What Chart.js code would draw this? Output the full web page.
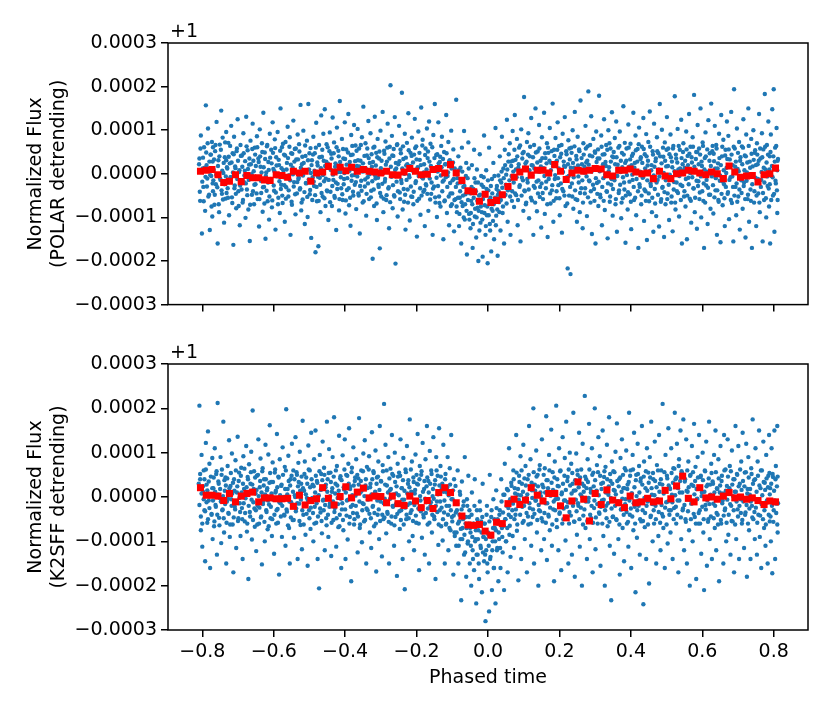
<!DOCTYPE html>
<html>
<head>
<meta charset="utf-8">
<script src="https://cdn.jsdelivr.net/npm/chart.js@4.4.0/dist/chart.umd.min.js"></script>
<style>
  html, body { margin: 0; padding: 0; background: #fff; }
  #wrap { position: relative; width: 830px; height: 712px; }
  canvas { position: absolute; left: 0; }
  #top { top: 0; }
  #bottom { top: 320px; }
</style>
</head>
<body>
<div id="wrap">
  <canvas id="top" width="830" height="320"></canvas>
  <canvas id="bottom" width="830" height="392"></canvas>
</div>
<script>
// x in units of 0.001 phase, flux in units of 1e-6 (relative to the +1 offset)
const xTickVals = [-800, -600, -400, -200, 0, 200, 400, 600, 800];
const xTickLabels = ["\u22120.8", "\u22120.6", "\u22120.4", "\u22120.2", "0.0", "0.2", "0.4", "0.6", "0.8"];
const yTickVals = [-300, -200, -100, 0, 100, 200, 300];
const yTickLabels = ["\u22120.0003", "\u22120.0002", "\u22120.0001", "0.0000", "0.0001", "0.0002", "0.0003"];
const offsetText = "+1";

// binned points (red squares), same bin centres in both panels
const binX = [-805,-789,-773,-756,-740,-724,-707,-691,-675,-659,-642,-626,-610,-593,-577,-561,-545,-528,-512,-496,
  -480,-463,-447,-431,-414,-398,-382,-366,-349,-333,-317,-300,-284,-268,-252,-235,-219,-203,-187,-170,
  -154,-138,-121,-105,-89,-73,-56,-40,-24,-8,8,24,40,56,73,89,105,121,138,154,
  170,187,203,219,235,252,268,284,300,317,333,349,366,382,398,414,431,447,463,480,
  496,512,528,545,561,577,593,610,626,642,659,675,691,707,724,740,756,773,789,805];

const polarBin = [6,8,10,-2,-20,-17,-2,-18,-4,-9,-9,-14,-15,-2,-4,-8,6,2,6,-17,
  2,4,17,4,15,7,15,6,10,6,4,2,6,-2,-3,4,12,6,-2,-1,
  10,12,2,21,2,-15,-39,-41,-63,-47,-66,-61,-48,-29,-8,4,11,-3,8,8,
  2,21,6,-13,2,8,6,8,12,11,-2,-5,8,8,11,4,0,2,-11,6,
  -5,-11,0,2,8,6,2,-2,4,0,-11,18,4,-8,-5,-4,-19,-2,0,13];

const k2sffBin = [21,4,4,2,-8,8,-11,2,8,11,-11,-2,-2,-4,-4,-3,-21,4,-18,-8,
  -4,21,-3,-18,1,23,-2,11,20,-2,2,1,-13,2,-15,-19,2,-9,-24,-8,
  -26,10,21,10,-13,-43,-63,-64,-62,-77,-86,-57,-60,-15,-5,-17,-7,21,4,-9,
  8,8,-20,-47,-9,34,-5,-54,8,-17,16,-7,-13,-24,2,-13,-11,-3,-11,-9,
  15,-4,25,47,-3,-11,21,-2,0,-5,2,10,-2,0,-5,-2,-8,-17,-9,-11];

// unbinned points, flat lists of x,y pairs: the wide scatter and the dense core
const polarPts = [
  -808,35,-806,-62,-804,88,-801,-137,-799,12,-797,-30,-795,61,-792,-85,-790,157,-788,20,-786,-11,-784,104,-781,-48,-779,-129,-777,44,-775,-5,-773,73,-772,-98,-771,28,-770,-40,
  -768,9,-766,-71,-764,52,-762,-24,-760,119,-757,-160,-755,31,-753,-88,-751,67,-749,-14,-747,145,-745,-46,-743,83,-741,2,-739,-112,-737,38,-735,-57,-733,96,-732,-20,-731,15,
  -729,-33,-727,71,-725,-95,-723,24,-721,-8,-719,110,-717,-54,-715,47,-713,-163,-711,85,-709,-27,-707,13,-705,-79,-703,58,-701,125,-699,-40,-697,4,-695,-118,-693,66,-691,-15,
  -689,42,-687,-66,-685,93,-683,-19,-681,7,-679,-101,-677,131,-675,-36,-673,54,-671,-82,-669,21,-667,-154,-665,76,-663,-5,-661,-48,-659,115,-657,30,-655,-70,-653,60,-651,-24,
  -649,-9,-647,86,-645,-58,-643,35,-641,-121,-639,102,-637,16,-635,-44,-633,70,-631,-87,-629,140,-627,-30,-625,49,-623,-149,-621,3,-619,63,-617,-63,-615,27,-613,-105,-611,92,
  -609,-17,-607,55,-605,-77,-603,118,-601,11,-599,-39,-597,79,-595,-128,-593,38,-591,-6,-589,96,-587,-55,-585,20,-583,-90,-581,150,-579,-25,-577,61,-575,-67,-573,8,-571,44,
  -569,-110,-567,73,-565,-31,-563,25,-561,108,-559,-52,-557,-3,-555,84,-553,-140,-551,47,-549,-71,-547,14,-545,122,-543,-19,-541,57,-539,-93,-537,33,-535,-45,-533,90,-531,-12,
  -529,68,-527,-36,-525,158,-523,-84,-521,22,-519,-59,-517,99,-515,5,-513,-115,-511,41,-509,-22,-507,76,-505,-99,-503,160,-501,10,-499,-47,-497,59,-495,-147,-493,31,-491,-8,
  -489,85,-487,-28,-485,47,-483,-180,-481,117,-479,-63,-477,19,-475,-166,-473,66,-471,-9,-469,-88,-467,134,-465,39,-463,-52,-461,92,-459,-17,-457,148,-455,-74,-453,28,-451,-38,
  -449,61,-447,-106,-445,13,-443,95,-441,-41,-439,46,-437,-74,-435,129,-433,-14,-431,72,-429,-55,-427,24,-425,-129,-423,106,-421,-23,-419,53,-417,-84,-415,167,-413,4,-411,-33,
  -409,80,-407,-60,-405,35,-403,-12,-401,118,-399,-91,-397,56,-395,-37,-393,9,-391,137,-389,-72,-387,27,-385,-119,-383,89,-381,-4,-379,44,-377,-50,-375,112,-373,-25,-371,65,
  -369,-81,-367,18,-365,103,-363,-45,-361,58,-359,-137,-357,30,-355,-16,-353,84,-351,-66,-349,154,-347,6,-345,-29,-343,70,-341,-96,-339,42,-337,-8,-335,121,-333,-58,-331,25,
  -329,93,-327,-39,-325,16,-323,-195,-321,60,-319,-74,-317,131,-315,-11,-313,48,-311,-106,-309,80,-307,-25,-305,35,-303,-171,-301,99,-299,-52,-297,3,-295,142,-293,-88,-291,53,
  -289,-18,-287,74,-285,-60,-283,28,-281,115,-279,-34,-277,-125,-275,62,-273,203,-271,-5,-269,87,-267,-79,-265,41,-263,-49,-261,130,-259,-206,-257,12,-255,66,-253,-98,-251,22,
  -249,110,-247,-43,-245,56,-243,-14,-241,186,-239,-82,-237,34,-235,-64,-233,92,-231,-128,-229,19,-227,71,-225,-36,-223,139,-221,-3,-219,-107,-217,48,-215,-52,-213,83,-211,7,
  -209,-70,-207,44,-205,126,-203,-21,-201,63,-199,-144,-197,15,-195,97,-193,-57,-191,32,-189,-94,-187,152,-185,-8,-183,78,-181,-41,-179,22,-177,-120,-175,58,-173,-27,-171,104,
  -169,36,-167,-85,-165,120,-163,-11,-161,69,-159,-46,-157,10,-155,-140,-153,89,-151,-29,-149,160,-147,-66,-145,43,-143,-99,-141,5,-139,118,-137,-52,-135,27,-133,-75,-131,64,
  -129,85,-127,-18,-125,-150,-123,50,-121,-61,-119,22,-117,135,-115,-90,-113,-5,-111,73,-109,-118,-107,31,-105,-45,-103,99,-101,-70,-99,-15,-97,56,-95,-132,-93,12,-91,-58,
  -89,170,-87,-88,-85,-22,-83,40,-81,-120,-79,-55,-77,14,-75,-160,-73,60,-71,-74,-69,-30,-67,98,-65,-105,-63,-47,-61,25,-59,-185,-57,-10,-55,72,-53,-92,-51,-40,
  -49,-125,-47,-62,-45,20,-43,-170,-41,-35,-39,55,-37,-98,-35,-20,-33,-146,-31,10,-29,-78,-27,-200,-25,-50,-23,45,-21,-112,-19,-5,-17,-88,-15,-190,-13,-30,-11,88,
  -9,-72,-7,-140,-5,8,-3,-95,-1,-205,1,-38,3,60,5,-115,7,-55,9,-178,11,-12,13,-85,15,25,17,-150,19,-64,21,105,23,-96,25,-28,27,-188,29,-4,
  31,-65,33,40,35,-130,37,-20,39,85,41,-90,43,12,45,-160,47,55,49,-48,51,-2,53,124,55,-110,57,28,59,-35,61,70,63,-140,65,18,67,-62,69,98,
  71,5,73,-76,75,135,77,32,79,-49,81,80,83,-118,85,14,87,60,89,-26,91,-155,93,102,95,-9,97,47,99,-85,101,176,103,-40,105,24,107,-66,109,73,
  111,-20,113,93,115,-102,117,40,119,-4,121,128,123,-61,125,19,127,-140,129,66,131,-32,133,150,135,7,137,-86,139,51,141,-15,143,112,145,-53,147,30,149,-123,
  151,84,153,-44,155,10,157,140,159,-92,161,36,163,-18,165,70,167,-145,169,48,171,-2,173,105,175,-68,177,25,179,-38,181,161,183,-110,185,55,187,-12,189,82,
  191,-56,193,30,195,118,197,-26,199,64,201,-95,203,9,205,46,207,-135,209,92,211,-40,213,18,215,130,217,-74,219,52,221,-8,223,-217,225,77,227,-50,229,33,
  231,-230,233,60,235,-22,237,100,239,-80,241,14,243,142,245,-58,247,41,249,-110,251,85,253,-6,255,56,257,-88,259,168,261,-33,263,22,265,-125,267,70,269,3,
  271,-45,273,110,275,26,277,-97,279,63,281,189,283,-15,285,42,287,-66,289,132,291,-138,293,11,295,80,297,-35,299,51,301,-160,303,97,305,-21,307,35,309,-74,
  311,179,313,6,315,-54,317,88,319,-118,321,44,323,-10,325,125,327,-83,329,27,331,66,333,-41,335,-148,337,100,339,15,341,-64,343,58,345,-25,347,141,349,-96,
  351,38,353,-12,355,82,357,-70,359,120,361,-133,363,21,365,60,367,-38,369,97,371,4,373,-102,375,48,377,-56,379,155,381,-20,383,71,385,-158,387,30,389,-3,
  391,-82,393,113,395,16,397,-47,399,69,401,-127,403,41,405,-14,407,140,409,-60,411,25,413,88,415,-95,417,2,419,57,421,-170,423,106,425,-30,427,34,429,-70,
  431,62,433,-9,435,128,437,-108,439,45,441,-40,443,91,445,-152,447,19,449,73,451,-63,453,143,455,-22,457,8,459,-88,461,52,463,-133,465,115,467,-35,469,29,
  471,-97,473,84,475,-14,477,47,479,-121,481,160,483,6,485,-58,487,101,489,-30,491,39,493,-145,495,72,497,-70,499,17,501,130,503,-45,505,58,507,-106,509,-2,
  511,90,513,-66,515,28,517,-132,519,64,521,-19,523,178,525,-82,527,35,529,-40,531,103,533,10,535,-98,537,55,539,-25,541,124,543,-160,545,22,547,70,549,-52,
  551,14,553,-75,555,97,557,-150,559,41,561,-9,563,137,565,-57,567,62,569,-112,571,26,573,84,575,-33,577,181,579,-88,581,8,583,50,585,-126,587,112,589,-17,
  591,58,593,-43,595,150,597,-100,599,18,601,72,603,-62,605,-170,607,36,609,95,611,-27,613,5,615,-115,617,123,619,-48,621,47,623,-80,625,161,627,-6,629,64,
  631,-91,633,29,635,110,637,-38,639,66,641,-140,643,12,645,-60,647,92,649,-16,651,-157,653,135,655,40,657,-72,659,78,661,-24,663,-120,665,55,667,2,669,120,
  671,-46,673,87,675,-104,677,33,679,-8,681,142,683,-67,685,20,687,-155,689,194,691,58,693,-30,695,-95,697,104,699,11,701,-52,703,73,705,-128,707,38,709,-15,
  711,63,713,-80,715,125,717,-20,719,42,721,-146,723,90,725,3,727,-58,729,150,731,-110,733,28,735,-36,737,80,739,-170,741,17,743,100,745,-66,747,48,749,-9,
  751,-120,753,70,755,22,757,-45,759,137,761,-88,763,35,765,-14,767,93,769,-155,771,56,773,-60,775,183,777,10,779,-100,781,66,783,-28,785,120,787,-75,789,40,
  790,-160,792,90,794,-5,796,148,798,-50,800,194,802,-133,804,60,806,-22,808,105,810,-90,811,30
];

const polarCore = [
  -809,22,-807,-41,-805,58,-803,5,-800,-18,-798,37,-796,-63,-793,14,-791,-7,-789,49,-787,-29,-785,70,-783,-52,-780,28,-778,-3,-776,44,-774,-75,-773,9,-771,-22,-770,61,
  -769,-15,-767,33,-765,-48,-763,66,-761,-2,-758,-31,-756,18,-754,-70,-752,40,-750,-11,-748,55,-746,-38,-744,7,-742,-59,-740,25,-738,-24,-736,72,-734,-6,-733,31,-732,-44,
  -730,12,-728,-55,-726,39,-724,-19,-722,64,-720,-8,-718,26,-716,-67,-714,3,-712,45,-710,-33,-708,17,-706,-46,-704,52,-702,-12,-700,30,-698,-74,-696,8,-694,-27,-692,41,
  -690,-36,-688,16,-686,-60,-684,47,-682,-4,-680,29,-678,-22,-676,63,-674,-49,-672,11,-670,-14,-668,35,-666,-71,-664,22,-662,-1,-660,57,-658,-40,-656,6,-654,-25,-652,44,
  -650,18,-648,-45,-646,61,-644,-9,-642,27,-640,-58,-638,40,-636,-16,-634,3,-632,50,-630,-31,-628,15,-626,-68,-624,34,-622,-5,-620,-39,-618,66,-616,-20,-614,9,-612,-52,
  -610,37,-608,-12,-606,24,-604,-61,-602,48,-600,-27,-598,6,-596,59,-594,-43,-592,19,-590,-2,-588,-70,-586,32,-584,-17,-582,53,-580,-35,-578,13,-576,-50,-574,69,-572,-8,
  -570,-26,-568,42,-566,-57,-564,10,-562,-6,-560,36,-558,-38,-556,62,-554,-15,-552,21,-550,-64,-548,46,-546,-1,-544,-29,-542,28,-540,-47,-538,58,-536,4,-534,-19,-532,33,
  -530,-9,-528,51,-526,-33,-524,14,-522,-66,-520,39,-518,-4,-516,25,-514,-42,-512,65,-510,-21,-508,8,-506,-53,-504,31,-502,-13,-500,47,-498,-37,-496,2,-494,20,-492,-60,
  -490,44,-488,-18,-486,7,-484,-49,-482,60,-480,-30,-478,26,-476,-7,-474,-62,-472,38,-470,-25,-468,13,-466,-44,-464,55,-462,-3,-460,30,-458,-56,-456,18,-454,-11,-452,68,
  -450,-40,-448,23,-446,-14,-444,52,-442,-65,-440,9,-438,35,-436,-28,-434,-2,-432,47,-430,-51,-428,16,-426,-20,-424,61,-422,-35,-420,4,-418,40,-416,-58,-414,27,-412,-8,
  -410,15,-408,-47,-406,57,-404,-24,-402,2,-400,34,-398,-61,-396,21,-394,-10,-392,49,-390,-33,-388,7,-386,-55,-384,43,-382,-16,-380,64,-378,-41,-376,11,-374,-3,-372,29,
  -370,-19,-368,53,-366,-6,-364,31,-362,-50,-360,17,-358,-28,-356,66,-354,-39,-352,5,-350,24,-348,-63,-346,41,-344,-13,-342,12,-340,-46,-338,58,-336,-22,-334,36,-332,-1,
  -330,8,-328,-54,-326,45,-324,-17,-322,27,-320,-36,-318,62,-316,-4,-314,19,-312,-68,-310,38,-308,-9,-306,-30,-304,51,-302,-44,-300,13,-298,30,-296,-23,-294,1,-292,-57,
  -290,46,-288,-12,-286,21,-284,-49,-282,60,-280,4,-278,-31,-276,35,-274,-65,-272,16,-270,-7,-268,42,-266,-26,-264,57,-262,-52,-260,9,-258,25,-256,-18,-254,68,-252,-40,
  -250,-3,-248,29,-246,-58,-244,47,-242,-21,-240,12,-238,63,-236,-35,-234,0,-232,-48,-230,37,-228,-14,-226,22,-224,-66,-222,54,-220,-8,-218,18,-216,-29,-214,41,-212,-53,
  -210,26,-208,-41,-206,6,-204,59,-202,-17,-200,33,-198,-62,-196,14,-194,-5,-192,48,-190,-33,-188,20,-186,-50,-184,65,-182,-11,-180,3,-178,-37,-176,43,-174,-24,-172,10,
  -170,-46,-168,51,-166,-2,-164,28,-162,-59,-160,18,-158,-20,-156,61,-154,-34,-152,7,-150,36,-148,-54,-146,14,-144,-9,-142,45,-140,-28,-138,24,-136,-67,-134,39,-132,-4,
  -130,15,-128,-40,-126,34,-124,-15,-122,-63,-120,22,-118,-8,-116,47,-114,-30,-112,3,-110,-52,-108,30,-106,-21,-104,-74,-102,12,-100,-45,-98,26,-96,-12,-94,-60,-92,5,
  -90,-30,-88,-75,-86,-10,-84,-55,-82,8,-80,-92,-78,-40,-76,-20,-74,-65,-72,5,-70,-50,-68,-100,-66,-28,-64,-70,-62,-5,-60,-85,-58,-38,-56,-60,-54,12,-52,-105,
  -50,-45,-48,-90,-46,-30,-44,-70,-42,-115,-40,-55,-38,-10,-36,-80,-34,-40,-32,-100,-30,-62,-28,-20,-26,-85,-24,-130,-22,-48,-20,-75,-18,-25,-16,-105,-14,-58,-12,-8,
  -10,-90,-8,-50,-6,-120,-4,-35,-2,-75,0,-15,2,-95,4,-60,6,-130,8,-28,10,-80,12,-45,14,-108,16,-70,18,-5,20,-55,22,-118,24,-35,26,-82,28,-48,
  30,-40,32,-88,34,-15,36,-60,38,5,40,-32,42,-75,44,-10,46,-50,48,20,50,-25,52,-68,54,10,56,-38,58,45,60,-15,62,-52,64,28,66,-5,68,-40,
  70,30,72,-20,74,55,76,-45,78,10,80,-8,82,40,84,-60,86,22,88,-30,90,65,92,2,94,-50,96,35,98,-15,100,50,102,-38,104,15,106,-70,108,28,
  110,-12,112,44,114,-36,116,8,118,62,120,-55,122,20,124,-4,126,38,128,-28,130,12,132,-66,134,49,136,-18,138,26,140,-45,142,5,144,58,146,-30,148,17,
  150,-22,152,36,154,-58,156,13,158,-5,160,47,162,-33,164,24,166,-70,168,60,170,-12,172,30,174,-45,176,8,178,52,180,-26,182,18,184,-62,186,41,188,-3,
  190,26,192,-40,194,55,196,-10,198,12,200,-56,202,38,204,-22,206,66,208,-35,210,4,212,28,214,-50,216,16,218,-15,220,45,222,-68,224,22,226,-5,228,58,
  230,-30,232,14,234,48,236,-52,238,25,240,-8,242,63,244,-38,246,7,248,33,250,-60,252,19,254,-20,256,52,258,-44,260,10,262,36,264,-15,266,-66,268,44,
  270,16,272,-33,274,58,276,-6,278,30,280,-54,282,21,284,-17,286,66,288,-40,290,5,292,40,294,-25,296,12,298,-62,300,48,302,-10,304,27,306,-46,308,56,
  310,-18,312,35,314,-48,316,10,318,62,320,-30,322,22,324,-62,326,45,328,-2,330,18,332,-40,334,55,336,-22,338,6,340,70,342,-52,344,28,346,-12,348,40,
  350,-35,352,50,354,-15,356,22,358,-58,360,38,362,-5,364,12,366,-44,368,64,370,-25,372,30,374,-66,376,15,378,-8,380,44,382,-36,384,25,386,-50,388,58,
  390,10,392,-42,394,60,396,-18,398,33,400,-64,402,20,404,-2,406,46,408,-30,410,14,412,-55,414,54,416,-12,418,28,420,-40,422,68,424,-24,426,5,428,38,
  430,-50,432,25,434,-8,436,57,438,-36,440,12,442,-62,444,40,446,-15,448,30,450,-45,452,6,454,62,456,-28,458,20,460,-55,462,44,464,-4,466,16,468,-68,
  470,35,472,-20,474,52,476,-48,478,10,480,-6,482,40,484,-64,486,24,488,-32,490,60,492,2,494,-42,496,30,498,-15,500,55,502,-58,504,18,506,-25,508,45,
  510,-10,512,38,514,-52,516,15,518,58,520,-36,522,6,524,-66,526,44,528,-20,530,26,532,-44,534,64,536,-5,538,12,540,-60,542,36,544,-28,546,50,548,8,
  550,-40,552,30,554,-12,556,56,558,-50,560,20,562,-24,564,46,566,2,568,-62,570,38,572,-8,574,62,576,-34,578,16,580,-55,582,34,584,-16,586,50,588,-28,
  590,22,592,-58,594,44,596,-6,598,28,600,-40,602,64,604,-22,606,10,608,-66,610,40,612,-14,614,56,616,-32,618,4,620,30,622,-48,624,18,626,-2,628,52,
  630,-26,632,46,634,-54,636,12,638,-10,640,58,642,-38,644,24,646,-64,648,36,650,-4,652,20,654,-46,656,62,658,-18,660,8,662,-56,664,42,666,-30,668,14,
  670,34,672,-42,674,56,676,-14,678,20,680,-60,682,44,684,-6,686,-30,688,62,690,-50,692,16,694,28,696,-22,698,-64,700,48,702,6,704,-36,706,30,708,-10,
  710,-44,712,22,714,60,716,-28,718,8,720,-58,722,40,724,-16,726,26,728,-48,730,64,732,-4,734,14,736,-62,738,46,740,-24,742,-2,744,32,746,-40,748,54,
  750,20,752,-50,754,44,756,-12,758,30,760,-66,762,58,764,-30,766,4,768,38,770,-44,772,14,774,-20,776,62,778,-56,780,26,782,-6,784,44,786,-34,788,10,
  789,-24,791,50,793,-60,795,18,797,-8,799,40,801,-46,803,28,805,-16,807,64,809,-38,810,8,811,-60,812,34
];

const k2sffPts = [
  -808,206,-806,40,-804,-75,-802,95,-800,-112,-798,12,-796,60,-794,-30,-792,-145,-790,122,-788,28,-786,-58,-784,148,-782,-8,-780,75,-778,-160,-776,5,-774,-40,-772,88,-771,-95,
  -769,20,-767,-66,-765,110,-763,-18,-761,52,-759,-130,-757,212,-755,35,-753,-47,-751,-2,-749,90,-747,-104,-745,62,-743,-28,-741,170,-739,-80,-737,14,-735,44,-733,-150,-731,-10,
  -729,70,-727,-36,-725,128,-723,-90,-721,25,-719,-5,-717,98,-715,-62,-713,-170,-711,40,-709,-22,-707,83,-705,-115,-703,10,-701,136,-699,-48,-697,55,-695,-14,-693,-88,-691,66,
  -689,-25,-687,-140,-685,92,-683,18,-681,-55,-679,-3,-677,115,-675,-78,-673,45,-671,-185,-669,74,-667,-34,-665,30,-663,102,-661,-96,-659,195,-657,-12,-655,58,-653,-67,-651,8,
  -649,-122,-647,48,-645,-20,-643,130,-641,-60,-639,22,-637,87,-635,-44,-633,-152,-631,65,-629,-9,-627,40,-625,-100,-623,118,-621,-30,-619,15,-617,-73,-615,96,-613,-17,-611,162,
  -609,-48,-607,34,-605,-88,-603,78,-601,-6,-599,-128,-597,55,-595,10,-593,-60,-591,142,-589,-27,-587,46,-585,-175,-583,85,-581,-14,-579,25,-577,-90,-575,112,-573,0,-571,-40,
  -569,68,-567,-110,-565,198,-563,-33,-561,18,-559,93,-557,-70,-555,-150,-553,40,-551,-12,-549,120,-547,-52,-545,60,-543,-92,-541,4,-539,135,-537,-26,-535,50,-533,-140,-531,77,
  -529,-15,-527,102,-525,-63,-523,30,-521,-118,-519,172,-517,-40,-515,14,-513,80,-511,-85,-509,44,-507,-2,-505,-155,-503,116,-501,-30,-499,60,-497,-72,-495,145,-493,-9,-491,28,
  -489,-100,-487,85,-485,-22,-483,150,-481,-58,-479,36,-477,-140,-475,2,-473,-206,-471,95,-469,-35,-467,52,-465,-82,-463,125,-461,-6,-459,66,-457,-120,-455,22,-453,-48,-451,170,
  -449,40,-447,-90,-445,108,-443,-15,-441,55,-439,-133,-437,12,-435,90,-433,-52,-431,180,-429,-25,-427,30,-425,-112,-423,70,-421,-2,-419,-68,-417,138,-415,-40,-413,47,-411,-160,
  -409,-28,-407,94,-405,-75,-403,17,-401,130,-399,-140,-397,50,-395,-8,-393,-96,-391,75,-389,155,-387,-45,-385,24,-383,-190,-381,66,-379,-18,-377,112,-375,-62,-373,36,-371,3,
  -369,85,-367,-37,-365,-125,-363,42,-361,178,-359,-70,-357,10,-355,60,-353,-102,-351,-14,-349,98,-347,-55,-345,128,-343,26,-341,-150,-339,68,-337,-30,-335,-2,-333,92,-331,-80,
  -329,30,-327,-115,-325,146,-323,-22,-321,58,-319,-66,-317,8,-315,105,-313,-168,-311,44,-309,-40,-307,80,-305,-95,-303,160,-301,-10,-299,35,-297,-134,-295,72,-293,-50,-291,210,
  -289,-4,-287,118,-285,-82,-283,26,-281,-38,-279,90,-277,-150,-275,15,-273,64,-271,-60,-269,140,-267,-20,-265,48,-263,-110,-261,100,-259,-45,-257,8,-255,-178,-253,75,-251,-14,
  -249,55,-247,-72,-245,130,-243,-30,-241,20,-239,-140,-237,88,-235,-6,-233,-208,-231,62,-229,-50,-227,115,-225,-18,-223,38,-221,-100,-219,175,-217,-36,-215,12,-213,80,-211,-88,
  -209,44,-207,-120,-205,8,-203,96,-201,-58,-199,30,-197,142,-195,-26,-193,-165,-191,70,-189,-8,-187,50,-185,-92,-183,122,-181,-40,-179,18,-177,-130,-175,85,-173,-12,-171,160,
  -169,-62,-167,36,-165,-150,-163,104,-161,-20,-159,60,-157,-80,-155,2,-153,135,-151,-44,-149,28,-147,-185,-145,90,-143,-10,-141,48,-139,-108,-137,155,-135,-30,-133,70,-131,-66,
  -129,20,-127,-98,-125,118,-123,-35,-121,-150,-119,52,-117,-60,-115,10,-113,90,-111,-120,-109,-20,-107,65,-105,-75,-103,140,-101,-45,-99,-5,-97,-175,-95,40,-93,-88,-91,25,
  -89,-110,-87,-30,-85,60,-83,-150,-81,-55,-79,12,-77,-95,-75,-233,-73,35,-71,-70,-69,-20,-67,-130,-65,90,-63,-60,-61,-180,-59,-5,-57,-105,-55,48,-53,-45,-51,-150,
  -49,-80,-47,-200,-45,10,-43,-120,-41,-60,-39,-165,-37,40,-35,-95,-33,-240,-31,-30,-29,-130,-27,-75,-25,-185,-23,-10,-21,-110,-19,-55,-17,-215,-15,30,-13,-90,-11,-145,
  -9,-60,-7,-280,-5,-120,-3,-20,-1,-170,1,-85,3,-258,5,50,7,-135,9,-45,11,-210,13,-100,15,-5,17,-160,19,-70,21,-240,23,15,25,-120,27,-50,29,-190,
  31,-95,33,-30,35,-160,37,40,39,-70,41,-125,43,5,45,-210,47,75,49,-50,51,-100,53,18,55,-170,57,-25,59,110,61,-65,63,-135,65,32,67,-8,69,-88,
  71,60,73,-115,75,20,77,-40,79,140,81,-76,83,5,85,-188,87,48,89,-12,91,92,93,-140,95,30,97,-58,99,118,101,-20,103,-95,105,70,107,-2,109,-170,
  111,40,113,-62,115,160,117,-25,119,85,121,-110,123,15,125,-45,127,200,129,-150,131,28,133,-8,135,105,137,-80,139,50,141,-200,143,-30,145,72,147,10,149,-120,
  151,130,153,-55,155,22,157,-95,159,65,161,-14,163,182,165,-142,167,38,169,-40,171,95,173,-75,175,3,177,152,179,-110,181,56,183,-28,185,-190,187,80,189,-5,
  191,206,193,-68,195,25,197,-120,199,110,201,-35,203,60,205,-165,207,10,209,135,211,-50,213,-8,215,88,217,-98,219,170,221,-22,223,45,225,-150,227,-60,229,100,
  231,-12,233,75,235,-130,237,30,239,190,241,-55,243,-180,245,15,247,98,249,-85,251,50,253,-20,255,145,257,-112,259,6,261,62,263,-200,265,120,267,-42,269,25,
  271,228,273,-70,275,40,277,-140,279,85,281,-10,283,165,285,-95,287,18,289,-48,291,110,293,-170,295,55,297,-25,299,200,301,-118,303,10,305,72,307,-60,309,135,
  311,-35,313,92,315,-155,317,30,319,-8,321,150,323,-88,325,45,327,-200,329,68,331,-20,333,118,335,-66,337,5,339,180,341,-110,343,36,345,-233,347,80,349,-45,
  351,58,353,-128,355,14,357,102,359,-50,361,166,363,-10,365,-95,367,40,369,-175,371,88,373,-28,375,130,377,-70,379,20,381,-145,383,65,385,-5,387,105,389,-60,
  391,28,393,-112,395,190,397,-40,399,60,401,-160,403,8,405,95,407,-75,409,145,411,-22,413,-215,415,50,417,-92,419,120,421,-8,423,70,425,-130,427,35,429,-55,
  431,160,433,-30,435,-242,437,80,439,-68,441,20,443,-140,445,110,447,-10,449,55,451,-195,453,90,455,-45,457,170,459,5,461,-100,463,40,465,-60,467,125,469,-20,
  471,-150,473,72,475,-5,477,-88,479,140,481,30,483,-120,485,60,487,-38,489,210,491,-70,493,15,495,-160,497,95,499,-12,501,48,503,-105,505,155,507,-30,509,20,
  511,-80,513,110,515,5,517,-140,519,65,521,-25,523,190,525,40,527,-60,529,120,531,-8,533,-170,535,85,537,10,539,150,541,-95,543,55,545,-30,547,175,549,-120,
  551,35,553,-50,555,130,557,-150,559,12,561,80,563,-75,565,-200,567,50,569,-15,571,115,573,-100,575,25,577,165,579,-45,581,68,583,-185,585,-5,587,90,589,-60,
  591,140,593,-30,595,45,597,-128,599,10,601,100,603,-80,605,-210,607,60,609,-18,611,125,613,-155,615,28,617,-50,619,170,621,-95,623,5,625,75,627,-140,629,35,
  631,-15,633,95,635,-70,637,150,639,-120,641,20,643,-40,645,85,647,-190,649,10,651,115,653,-60,655,48,657,-8,659,-150,661,140,663,-30,665,62,667,-100,669,25,
  671,130,673,-85,675,8,677,70,679,-130,681,-20,683,105,685,-55,687,40,689,-170,691,12,693,160,695,-95,697,52,699,-28,701,115,703,-140,705,30,707,-5,709,80,
  711,-60,713,145,715,-10,717,-115,719,55,721,-35,723,120,725,-180,727,18,729,90,731,-75,733,5,735,-140,737,65,739,-20,741,175,743,-50,745,38,747,-95,749,110,
  751,-5,753,-130,755,80,757,-40,759,150,761,-90,763,20,765,-160,767,60,769,-18,771,125,773,-70,775,32,777,-110,779,95,781,-8,783,-150,785,48,787,140,789,-55,
  790,20,792,-100,794,110,796,-172,798,45,800,-30,802,150,804,-140,806,70,808,-15,810,160,811,-80
];

const k2sffCore = [
  -810,30,-808,-18,-806,52,-804,-44,-802,8,-800,-60,-798,24,-796,-5,-794,40,-792,-32,-790,62,-788,-12,-786,15,-784,-50,-782,35,-780,-25,-778,3,-776,46,-774,-38,-772,20,
  -770,-8,-768,44,-766,-55,-764,12,-762,-22,-760,58,-758,-40,-756,6,-754,30,-752,-64,-750,18,-748,-10,-746,50,-744,-30,-742,2,-740,-48,-738,38,-736,-16,-734,26,-732,-58,
  -730,42,-728,-4,-726,-38,-724,20,-722,-62,-720,54,-718,-20,-716,8,-714,32,-712,-46,-710,14,-708,-28,-706,60,-704,-12,-702,24,-700,-54,-698,36,-696,-2,-694,-34,-692,48,
  -690,10,-688,-50,-686,30,-684,-14,-682,64,-680,-36,-678,4,-676,22,-674,-60,-672,40,-670,-20,-668,12,-666,-44,-664,56,-662,-6,-660,28,-658,-52,-656,18,-654,-26,-652,44,
  -650,-30,-648,16,-646,-62,-644,50,-642,2,-640,-24,-638,36,-636,-46,-634,10,-632,58,-630,-16,-628,26,-626,-56,-624,6,-622,40,-620,-34,-618,20,-616,-8,-614,-66,-612,32,
  -610,54,-608,-22,-606,8,-604,-50,-602,34,-600,-2,-598,-40,-596,62,-594,14,-592,-30,-590,22,-588,-58,-586,44,-584,-12,-582,4,-580,-44,-578,28,-576,-20,-574,50,-572,-6,
  -570,-42,-568,18,-566,60,-564,-28,-562,6,-560,-64,-558,36,-556,-10,-554,26,-552,-46,-550,48,-548,-18,-546,12,-544,-52,-542,40,-540,0,-538,-32,-536,56,-534,-14,-532,24,
  -530,34,-528,-54,-526,14,-524,-6,-522,46,-520,-30,-518,20,-516,-62,-514,52,-512,-16,-510,6,-508,-38,-506,30,-504,-8,-502,62,-500,-48,-498,22,-496,-24,-494,40,-492,-2,
  -490,-36,-488,24,-486,-60,-484,10,-482,48,-480,-14,-478,32,-476,-44,-474,4,-472,58,-470,-26,-468,16,-466,-54,-464,38,-462,-8,-460,-30,-458,50,-456,-18,-454,28,-452,-64,
  -450,12,-448,-40,-446,54,-444,-22,-442,2,-440,34,-438,-58,-436,20,-434,-10,-432,46,-430,-34,-428,8,-426,60,-424,-48,-422,26,-420,-16,-418,14,-416,-66,-414,42,-412,-4,
  -410,38,-408,-14,-406,-52,-404,22,-402,62,-400,-28,-398,10,-396,-42,-394,48,-392,-6,-390,30,-388,-60,-386,18,-384,-22,-382,56,-380,4,-378,-36,-376,26,-374,-50,-372,44,
  -370,-20,-368,8,-366,50,-364,-44,-362,28,-360,-10,-358,-62,-356,36,-354,14,-352,-30,-350,58,-348,-16,-346,2,-344,-52,-342,40,-340,-26,-338,20,-336,-6,-334,62,-332,-38,
  -330,22,-328,-48,-326,6,-324,40,-322,-20,-320,54,-318,-36,-316,12,-314,-60,-312,30,-310,-8,-308,46,-306,-28,-304,16,-302,-54,-300,36,-298,-2,-296,-40,-294,58,-292,-14,
  -290,-46,-288,28,-286,-12,-284,60,-282,-34,-280,10,-278,-56,-276,42,-274,-4,-272,18,-270,-44,-268,52,-266,-22,-264,6,-262,-64,-260,34,-258,-16,-256,24,-254,-38,-252,46,
  -250,4,-248,-32,-246,48,-244,-52,-242,20,-240,-6,-238,38,-236,-62,-234,14,-232,-24,-230,56,-228,-40,-226,8,-224,30,-222,-48,-220,22,-218,-14,-216,62,-214,-30,-212,10,
  -210,-54,-208,34,-206,-18,-204,16,-202,-42,-200,50,-198,-8,-196,28,-194,-60,-192,40,-190,2,-188,-32,-186,58,-184,-22,-182,12,-180,-46,-178,36,-176,-4,-174,-36,-172,24,
  -170,44,-168,-26,-166,10,-164,-58,-162,30,-160,-12,-158,52,-156,-40,-154,18,-152,-4,-150,-50,-148,38,-146,-20,-144,60,-142,-34,-140,6,-138,-62,-136,26,-134,-10,-132,46,
  -130,-24,-128,30,-126,-50,-124,12,-122,-8,-120,40,-118,-62,-116,-20,-114,22,-112,-40,-110,4,-108,-70,-106,28,-104,-30,-102,-5,-100,-55,-98,15,-96,-42,-94,-80,-92,-12,
  -90,-35,-88,-80,-86,-15,-84,-60,-82,-110,-80,-40,-78,5,-76,-72,-74,-28,-72,-95,-70,-50,-68,-10,-66,-85,-64,-125,-62,-45,-60,-70,-58,-20,-56,-100,-54,-60,-52,-30,
  -50,-70,-48,-110,-46,-40,-44,-90,-42,-140,-40,-60,-38,-20,-36,-100,-34,-75,-32,-130,-30,-50,-28,-95,-26,-150,-24,-65,-22,-30,-20,-115,-18,-80,-16,-45,-14,-125,-12,-90,
  -10,-60,-8,-130,-6,-95,-4,-40,-2,-150,0,-80,2,-110,4,-55,6,-140,8,-90,10,-30,12,-120,14,-70,16,-160,18,-50,20,-100,22,-75,24,-25,26,-115,28,-60,
  30,-80,32,-40,34,-115,36,-60,38,-10,40,-90,42,-35,44,-65,46,5,48,-50,50,-100,52,-20,54,-70,56,15,58,-40,60,-85,62,-5,64,-45,66,25,68,-30,
  70,-15,72,40,74,-50,76,8,78,-28,80,55,82,-62,84,18,86,-6,88,34,90,-40,92,4,94,60,96,-22,98,12,100,-54,102,42,104,-10,106,26,108,-36,
  110,6,112,-44,114,50,116,-14,118,20,120,-60,122,32,124,-2,126,-28,128,56,130,-38,132,14,134,-8,136,46,138,-52,140,24,142,-18,144,62,146,-32,148,2,
  150,-48,152,28,154,-6,156,50,158,-36,160,10,162,-58,164,38,166,-14,168,20,170,-44,172,60,174,-24,176,4,178,32,180,-62,182,16,184,-10,186,44,188,-30,
  190,12,192,-52,194,40,196,-4,198,24,200,-38,202,58,204,-18,206,6,208,-60,210,30,212,-26,214,48,216,-8,218,16,220,-46,222,36,224,-12,226,62,228,-34,
  230,26,232,-42,234,8,236,54,238,-20,240,14,242,-56,244,38,246,-6,248,-32,250,60,252,-14,254,22,256,-50,258,44,260,-24,262,2,264,30,266,-62,268,12,
  270,-28,272,46,274,-10,276,20,278,-54,280,34,282,-2,284,62,286,-40,288,10,290,-20,292,50,294,-58,296,24,298,-8,300,38,302,-46,304,14,306,-16,308,56,
  310,4,312,-38,314,48,316,-22,318,18,320,-60,322,32,324,-6,326,58,328,-30,330,10,332,-48,334,40,336,-14,338,24,340,-56,342,52,344,-2,346,-26,348,30,
  350,-44,352,16,354,56,356,-20,358,6,360,-52,362,36,364,-10,366,24,368,-62,370,44,372,-28,374,12,376,-4,378,50,380,-40,382,20,384,-16,386,60,388,-34,
  390,18,392,-56,394,34,396,-8,398,48,400,-26,402,8,404,-44,406,62,408,-14,410,22,412,-60,414,38,416,2,418,-30,420,52,422,-20,424,10,426,-50,428,42,
  430,-12,432,28,434,-54,436,46,438,-2,440,-36,442,58,444,-20,446,14,448,-62,450,32,452,-8,454,44,456,-42,458,20,460,-16,462,54,464,-30,466,4,468,36,
  470,-50,472,22,474,-6,476,60,478,-34,480,12,482,-58,484,40,486,-18,488,28,490,-44,492,8,494,56,496,-24,498,16,500,-62,502,42,504,-10,506,26,508,-40,
  510,18,512,-30,514,54,516,-12,518,32,520,-50,522,64,524,4,526,-22,528,44,530,-40,532,20,534,70,536,-8,538,36,540,-46,542,58,544,10,546,-26,548,48,
  550,-18,552,40,554,-56,556,14,558,60,560,-32,562,22,564,-6,566,48,568,-50,570,28,572,-14,574,56,576,-38,578,6,580,36,582,-60,584,18,586,-4,588,44,
  590,-36,592,20,594,-60,596,48,598,2,600,-22,602,38,604,-50,606,12,608,58,610,-28,612,24,614,-8,616,-56,618,42,620,-16,622,28,624,-44,626,54,628,-2,
  630,30,632,-48,634,10,636,-20,638,56,640,-36,642,18,644,-62,646,42,648,-4,650,26,652,-52,654,36,656,-14,658,8,660,-42,662,60,664,-26,666,14,668,-58,
  670,-6,672,46,674,-40,676,20,678,-16,680,58,682,-54,684,28,686,2,688,-30,690,40,692,-62,694,12,696,-10,698,50,700,-44,702,24,704,-20,706,62,708,-36,
  710,16,712,-52,714,36,716,-4,718,24,720,-40,722,56,724,-18,726,8,728,-60,730,44,732,-26,734,18,736,-10,738,52,740,-46,742,30,744,-2,746,-34,748,40,
  750,-24,752,12,754,-58,756,48,758,-8,760,26,762,-42,764,60,766,-16,768,4,770,-50,772,34,774,-30,776,16,778,-62,780,42,782,-12,784,22,786,-40,788,54,
  789,6,791,-44,793,30,795,-20,797,52,799,-56,801,14,803,-8,805,40,807,-36,809,24,810,-62,811,46,812,-14
];

const FONT = "'DejaVu Sans', 'Liberation Sans', sans-serif";

function toPoints(flat) {
  const out = [];
  for (let i = 0; i < flat.length; i += 2) out.push({ x: flat[i], y: flat[i + 1] });
  return out;
}

function binPoints(vals) {
  return vals.map((v, i) => ({ x: binX[i], y: v }));
}

// frame round the plot area plus the "+1" offset text
const framePlugin = {
  id: "frame",
  afterDraw(chart) {
    const { ctx, chartArea: a } = chart;
    ctx.save();
    ctx.strokeStyle = "#000";
    ctx.lineWidth = 1.5;
    ctx.strokeRect(a.left, a.top, a.right - a.left, a.bottom - a.top);
    ctx.fillStyle = "#000";
    ctx.font = "19px " + FONT;
    ctx.textBaseline = "alphabetic";
    ctx.fillText(offsetText, a.left + 2, a.top - 6);
    ctx.restore();
  },
};

function makePanel(id, pts, core, bins, yTitle, showX, padTop, xHeight) {
  const tickGrid = { drawOnChartArea: false, drawTicks: true, tickLength: 7, color: "#000", lineWidth: 1.5 };
  return new Chart(document.getElementById(id), {
    type: "scatter",
    data: {
      datasets: [
        {
          data: binPoints(bins),
          pointStyle: "rect",
          pointRadius: 5,
          backgroundColor: "#ff0000",
          borderWidth: 0,
          order: 0,
        },
        {
          data: toPoints(pts).concat(toPoints(core)),
          pointRadius: 2.2,
          backgroundColor: "#1f77b4",
          borderWidth: 0,
          order: 1,
        },
      ],
    },
    options: {
      responsive: false,
      animation: false,
      events: [],
      layout: { padding: { top: padTop, right: 22, left: 0, bottom: 0 } },
      plugins: { legend: { display: false }, tooltip: { enabled: false } },
      scales: {
        x: {
          type: "linear",
          min: -896,
          max: 896,
          afterBuildTicks: s => { s.ticks = xTickVals.map(v => ({ value: v })); },
          afterFit: s => { s.height = xHeight; },
          grid: tickGrid,
          border: { display: false },
          ticks: {
            display: showX,
            color: "#000",
            font: { family: FONT, size: 19 },
            padding: 4,
            maxRotation: 0,
            autoSkip: false,
            callback: v => xTickLabels[xTickVals.indexOf(v)],
          },
          title: {
            display: showX,
            text: "Phased time",
            color: "#000",
            font: { family: FONT, size: 19 },
            padding: { top: 0, bottom: 23 },
          },
        },
        y: {
          type: "linear",
          min: -300,
          max: 300,
          afterBuildTicks: s => { s.ticks = yTickVals.map(v => ({ value: v })); },
          afterFit: s => { s.width = 168; },
          grid: tickGrid,
          border: { display: false },
          ticks: {
            color: "#000",
            font: { family: FONT, size: 19 },
            padding: 4,
            autoSkip: false,
            callback: v => yTickLabels[yTickVals.indexOf(v)],
          },
          title: {
            display: true,
            text: yTitle,
            color: "#000",
            font: { family: FONT, size: 19 },
            padding: { top: 25, bottom: 0 },
          },
        },
      },
    },
    plugins: [framePlugin],
  });
}

makePanel("top", polarPts, polarCore, polarBin, ["Normalized Flux", "(POLAR detrending)"], false, 43, 11);
makePanel("bottom", k2sffPts, k2sffCore, k2sffBin, ["Normalized Flux", "(K2SFF detrending)"], true, 44, 82);
</script>
</body>
</html>
